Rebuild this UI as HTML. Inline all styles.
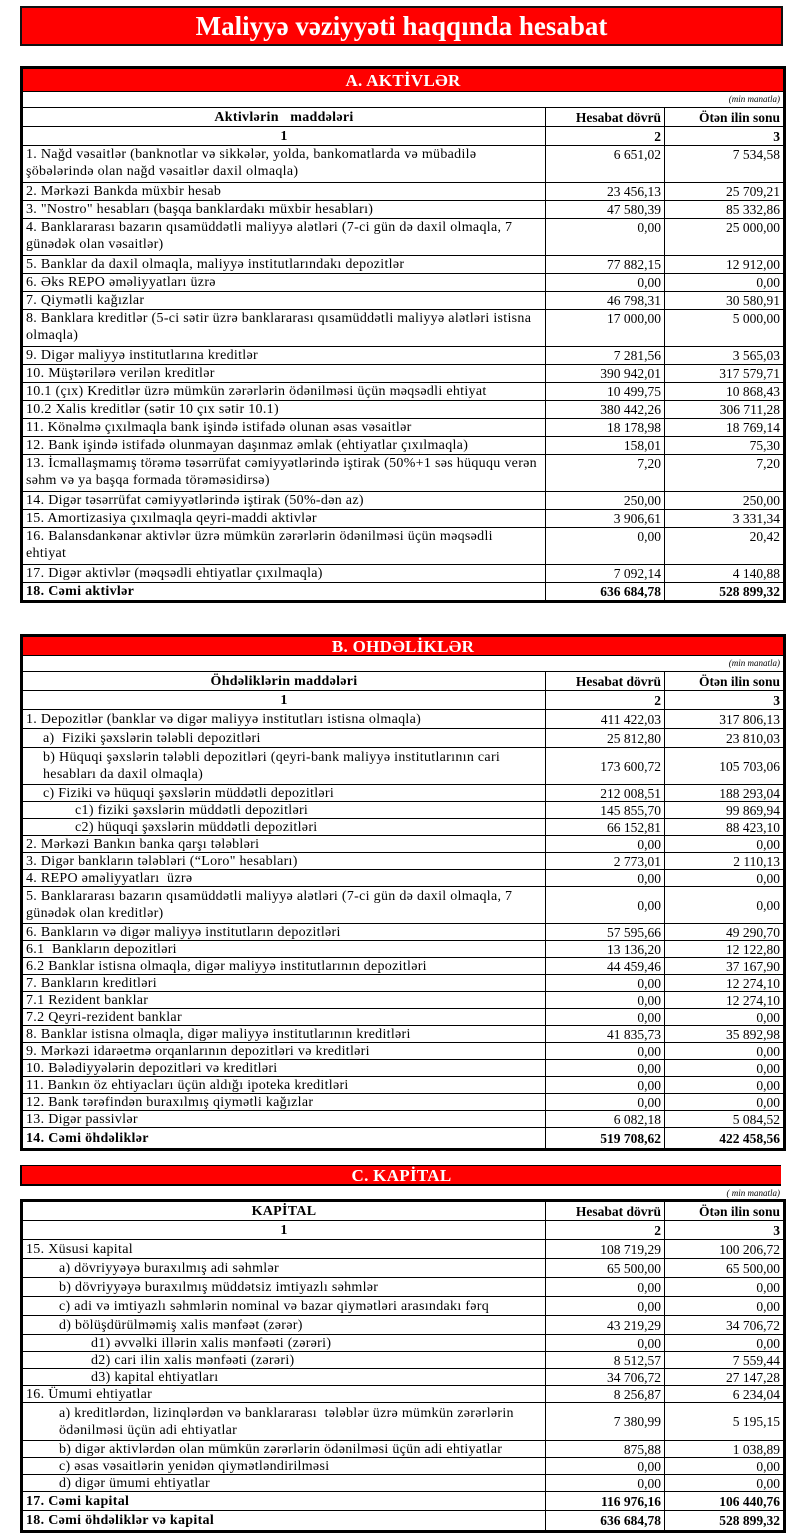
<!DOCTYPE html>
<html><head><meta charset="utf-8">
<style>
body{margin:0;width:800px;height:1539px;background:#fff;position:relative;overflow:hidden;font-family:"Liberation Serif",serif}
.title{position:absolute;left:20px;top:6px;width:759px;height:36px;border:2px solid #111;background:#f00;color:#fff;font-weight:bold;font-size:27px;line-height:36px;text-align:center}
.sec{position:absolute;left:20px;border:2px solid #000}
table{border-collapse:collapse;width:761px;table-layout:fixed}
td{border:1px solid #000;padding:0 3px;font-size:14px;letter-spacing:0.3px;line-height:15px;white-space:nowrap;overflow:hidden;vertical-align:middle}
td.n{text-align:right;font-size:13.5px;letter-spacing:0}
tr.s{height:18px}
tr.d{height:37px}
tr.d td{line-height:17px}
.top td{vertical-align:top}
.red td{background:#f00;color:#fff;font-weight:bold;font-size:17px;letter-spacing:0.3px;text-align:center;height:22px}
.mm td{text-align:right;font-style:italic;font-size:9px;letter-spacing:0;height:15px}
.h td{font-weight:bold;height:18px}
.h td.n{font-size:13.5px;letter-spacing:0}
tr.b td{font-weight:bold}
.i1{padding-left:20px}.i2{padding-left:52px}.i3{padding-left:36px}.i4{padding-left:68px}
</style></head><body>
<div class="title">Maliyyə vəziyyəti haqqında hesabat</div>

<div class="sec" style="top:66px">
<table>
<colgroup><col style="width:523px"><col style="width:119px"><col style="width:119px"></colgroup>
<tr class="red"><td colspan="3">A. AKTİVLƏR</td></tr>
<tr class="mm"><td colspan="3">(min manatla)</td></tr>
<tr class="h"><td style="text-align:center">Aktivlərin &nbsp; maddələri</td><td class="n">Hesabat dövrü</td><td class="n">Ötən ilin sonu</td></tr>
<tr class="h"><td style="text-align:center">1</td><td class="n">2</td><td class="n">3</td></tr>
<tr class="d top"><td>1. Nağd vəsaitlər (banknotlar və sikkələr, yolda, bankomatlarda və mübadilə<br>şöbələrində olan nağd vəsaitlər daxil olmaqla)</td><td class="n">6 651,02</td><td class="n">7 534,58</td></tr>
<tr class="s"><td>2. Mərkəzi Bankda müxbir hesab</td><td class="n">23 456,13</td><td class="n">25 709,21</td></tr>
<tr class="s"><td>3. "Nostro" hesabları (başqa banklardakı müxbir hesabları)</td><td class="n">47 580,39</td><td class="n">85 332,86</td></tr>
<tr class="d top"><td>4. Banklararası bazarın qısamüddətli maliyyə alətləri (7-ci gün də daxil olmaqla, 7<br>günədək olan vəsaitlər)</td><td class="n">0,00</td><td class="n">25 000,00</td></tr>
<tr class="s"><td>5. Banklar da daxil olmaqla, maliyyə institutlarındakı depozitlər</td><td class="n">77 882,15</td><td class="n">12 912,00</td></tr>
<tr class="s"><td>6. Əks REPO əməliyyatları üzrə</td><td class="n">0,00</td><td class="n">0,00</td></tr>
<tr class="s"><td>7. Qiymətli kağızlar</td><td class="n">46 798,31</td><td class="n">30 580,91</td></tr>
<tr class="d top"><td>8. Banklara kreditlər (5-ci sətir üzrə banklararası qısamüddətli maliyyə alətləri istisna<br>olmaqla)</td><td class="n">17 000,00</td><td class="n">5 000,00</td></tr>
<tr class="s"><td>9. Digər maliyyə institutlarına kreditlər</td><td class="n">7 281,56</td><td class="n">3 565,03</td></tr>
<tr class="s"><td>10. Müştərilərə verilən kreditlər</td><td class="n">390 942,01</td><td class="n">317 579,71</td></tr>
<tr class="s"><td>10.1 (çıx) Kreditlər üzrə mümkün zərərlərin ödənilməsi üçün məqsədli ehtiyat</td><td class="n">10 499,75</td><td class="n">10 868,43</td></tr>
<tr class="s"><td>10.2 Xalis kreditlər (sətir 10 çıx sətir 10.1)</td><td class="n">380 442,26</td><td class="n">306 711,28</td></tr>
<tr class="s"><td>11. Könəlmə çıxılmaqla bank işində istifadə olunan əsas vəsaitlər</td><td class="n">18 178,98</td><td class="n">18 769,14</td></tr>
<tr class="s"><td>12. Bank işində istifadə olunmayan daşınmaz əmlak (ehtiyatlar çıxılmaqla)</td><td class="n">158,01</td><td class="n">75,30</td></tr>
<tr class="d top"><td>13. İcmallaşmamış törəmə təsərrüfat cəmiyyətlərində iştirak (50%+1 səs hüququ verən<br>səhm və ya başqa formada törəməsidirsə)</td><td class="n">7,20</td><td class="n">7,20</td></tr>
<tr class="s"><td>14. Digər təsərrüfat cəmiyyətlərində iştirak (50%-dən az)</td><td class="n">250,00</td><td class="n">250,00</td></tr>
<tr class="s"><td>15. Amortizasiya çıxılmaqla qeyri-maddi aktivlər</td><td class="n">3 906,61</td><td class="n">3 331,34</td></tr>
<tr class="d top"><td>16. Balansdankənar aktivlər üzrə mümkün zərərlərin ödənilməsi üçün məqsədli<br>ehtiyat</td><td class="n">0,00</td><td class="n">20,42</td></tr>
<tr class="s"><td>17. Digər aktivlər (məqsədli ehtiyatlar çıxılmaqla)</td><td class="n">7 092,14</td><td class="n">4 140,88</td></tr>
<tr class="s b"><td>18. Cəmi aktivlər</td><td class="n">636 684,78</td><td class="n">528 899,32</td></tr>
</table></div>

<div class="sec" style="top:634px">
<table>
<colgroup><col style="width:523px"><col style="width:119px"><col style="width:119px"></colgroup>
<tr class="red"><td colspan="3" style="height:18px;line-height:17px">B. OHDƏLİKLƏR</td></tr>
<tr class="mm"><td colspan="3">(min manatla)</td></tr>
<tr class="h"><td style="text-align:center">Öhdəliklərin maddələri</td><td class="n">Hesabat dövrü</td><td class="n">Ötən ilin sonu</td></tr>
<tr class="h" style="height:18px"><td style="text-align:center">1</td><td class="n">2</td><td class="n">3</td></tr>
<tr style="height:19px"><td>1. Depozitlər (banklar və digər maliyyə institutları istisna olmaqla)</td><td class="n">411 422,03</td><td class="n">317 806,13</td></tr>
<tr style="height:19px"><td class="i1">a) &nbsp;Fiziki şəxslərin tələbli depozitləri</td><td class="n">25 812,80</td><td class="n">23 810,03</td></tr>
<tr class="d"><td class="i1">b) Hüquqi şəxslərin tələbli depozitləri (qeyri-bank maliyyə institutlarının cari<br>hesabları da daxil olmaqla)</td><td class="n">173 600,72</td><td class="n">105 703,06</td></tr>
<tr style="height:17px"><td class="i1">c) Fiziki və hüquqi şəxslərin müddətli depozitləri</td><td class="n">212 008,51</td><td class="n">188 293,04</td></tr>
<tr style="height:17px"><td class="i2">c1) fiziki şəxslərin müddətli depozitləri</td><td class="n">145 855,70</td><td class="n">99 869,94</td></tr>
<tr style="height:17px"><td class="i2">c2) hüquqi şəxslərin müddətli depozitləri</td><td class="n">66 152,81</td><td class="n">88 423,10</td></tr>
<tr style="height:17px"><td>2. Mərkəzi Bankın banka qarşı tələbləri</td><td class="n">0,00</td><td class="n">0,00</td></tr>
<tr style="height:17px"><td>3. Digər bankların tələbləri (“Loro" hesabları)</td><td class="n">2 773,01</td><td class="n">2 110,13</td></tr>
<tr style="height:17px"><td>4. REPO əməliyyatları &nbsp;üzrə</td><td class="n">0,00</td><td class="n">0,00</td></tr>
<tr class="d"><td>5. Banklararası bazarın qısamüddətli maliyyə alətləri (7-ci gün də daxil olmaqla, 7<br>günədək olan kreditlər)</td><td class="n">0,00</td><td class="n">0,00</td></tr>
<tr style="height:17px"><td>6. Bankların və digər maliyyə institutların depozitləri</td><td class="n">57 595,66</td><td class="n">49 290,70</td></tr>
<tr style="height:17px"><td>6.1 &nbsp;Bankların depozitləri</td><td class="n">13 136,20</td><td class="n">12 122,80</td></tr>
<tr style="height:17px"><td>6.2 Banklar istisna olmaqla, digər maliyyə institutlarının depozitləri</td><td class="n">44 459,46</td><td class="n">37 167,90</td></tr>
<tr style="height:17px"><td>7. Bankların kreditləri</td><td class="n">0,00</td><td class="n">12 274,10</td></tr>
<tr style="height:17px"><td>7.1 Rezident banklar</td><td class="n">0,00</td><td class="n">12 274,10</td></tr>
<tr style="height:17px"><td>7.2 Qeyri-rezident banklar</td><td class="n">0,00</td><td class="n">0,00</td></tr>
<tr style="height:17px"><td>8. Banklar istisna olmaqla, digər maliyyə institutlarının kreditləri</td><td class="n">41 835,73</td><td class="n">35 892,98</td></tr>
<tr style="height:17px"><td>9. Mərkəzi idarəetmə orqanlarının depozitləri və kreditləri</td><td class="n">0,00</td><td class="n">0,00</td></tr>
<tr style="height:17px"><td>10. Bələdiyyələrin depozitləri və kreditləri</td><td class="n">0,00</td><td class="n">0,00</td></tr>
<tr style="height:17px"><td>11. Bankın öz ehtiyacları üçün aldığı ipoteka kreditləri</td><td class="n">0,00</td><td class="n">0,00</td></tr>
<tr style="height:17px"><td>12. Bank tərəfindən buraxılmış qiymətli kağızlar</td><td class="n">0,00</td><td class="n">0,00</td></tr>
<tr style="height:17px"><td>13. Digər passivlər</td><td class="n">6 082,18</td><td class="n">5 084,52</td></tr>
<tr class="b" style="height:21px"><td>14. Cəmi öhdəliklər</td><td class="n">519 708,62</td><td class="n">422 458,56</td></tr>
</table></div>

<div style="position:absolute;left:20px;top:1165px;width:759px;height:18px;background:#f00;border-left:2px solid #000;border-bottom:2px solid #000;border-top:1px solid #000;color:#fff;font-weight:bold;font-size:17px;letter-spacing:0.3px;line-height:19px;text-align:center">C. KAPİTAL</div>
<div style="position:absolute;left:600px;top:1188px;width:180px;text-align:right;font-style:italic;font-size:9px;line-height:11px">( min manatla)</div>

<div class="sec" style="top:1199px">
<table>
<colgroup><col style="width:523px"><col style="width:119px"><col style="width:119px"></colgroup>
<tr class="h"><td style="text-align:center">KAPİTAL</td><td class="n">Hesabat dövrü</td><td class="n">Ötən ilin sonu</td></tr>
<tr class="h" style="height:18px"><td style="text-align:center">1</td><td class="n">2</td><td class="n">3</td></tr>
<tr style="height:19px"><td>15. Xüsusi kapital</td><td class="n">108 719,29</td><td class="n">100 206,72</td></tr>
<tr style="height:19px"><td class="i3">a) dövriyyəyə buraxılmış adi səhmlər</td><td class="n">65 500,00</td><td class="n">65 500,00</td></tr>
<tr style="height:19px"><td class="i3">b) dövriyyəyə buraxılmış müddətsiz imtiyazlı səhmlər</td><td class="n">0,00</td><td class="n">0,00</td></tr>
<tr style="height:19px"><td class="i3">c) adi və imtiyazlı səhmlərin nominal və bazar qiymətləri arasındakı fərq</td><td class="n">0,00</td><td class="n">0,00</td></tr>
<tr style="height:19px"><td class="i3">d) bölüşdürülməmiş xalis mənfəət (zərər)</td><td class="n">43 219,29</td><td class="n">34 706,72</td></tr>
<tr style="height:17px"><td class="i4">d1) əvvəlki illərin xalis mənfəəti (zərəri)</td><td class="n">0,00</td><td class="n">0,00</td></tr>
<tr style="height:17px"><td class="i4">d2) cari ilin xalis mənfəəti (zərəri)</td><td class="n">8 512,57</td><td class="n">7 559,44</td></tr>
<tr style="height:17px"><td class="i4">d3) kapital ehtiyatları</td><td class="n">34 706,72</td><td class="n">27 147,28</td></tr>
<tr style="height:17px"><td>16. Ümumi ehtiyatlar</td><td class="n">8 256,87</td><td class="n">6 234,04</td></tr>
<tr class="d" style="height:38px"><td class="i3">a) kreditlərdən, lizinqlərdən və banklararası &nbsp;tələblər üzrə mümkün zərərlərin<br>ödənilməsi üçün adi ehtiyatlar</td><td class="n">7 380,99</td><td class="n">5 195,15</td></tr>
<tr style="height:17px"><td class="i3">b) digər aktivlərdən olan mümkün zərərlərin ödənilməsi üçün adi ehtiyatlar</td><td class="n">875,88</td><td class="n">1 038,89</td></tr>
<tr style="height:17px"><td class="i3">c) əsas vəsaitlərin yenidən qiymətləndirilməsi</td><td class="n">0,00</td><td class="n">0,00</td></tr>
<tr style="height:17px"><td class="i3">d) digər ümumi ehtiyatlar</td><td class="n">0,00</td><td class="n">0,00</td></tr>
<tr class="b" style="height:19px"><td>17. Cəmi kapital</td><td class="n">116 976,16</td><td class="n">106 440,76</td></tr>
<tr class="b" style="height:20px"><td>18. Cəmi öhdəliklər və kapital</td><td class="n">636 684,78</td><td class="n">528 899,32</td></tr>
</table></div>
</body></html>
